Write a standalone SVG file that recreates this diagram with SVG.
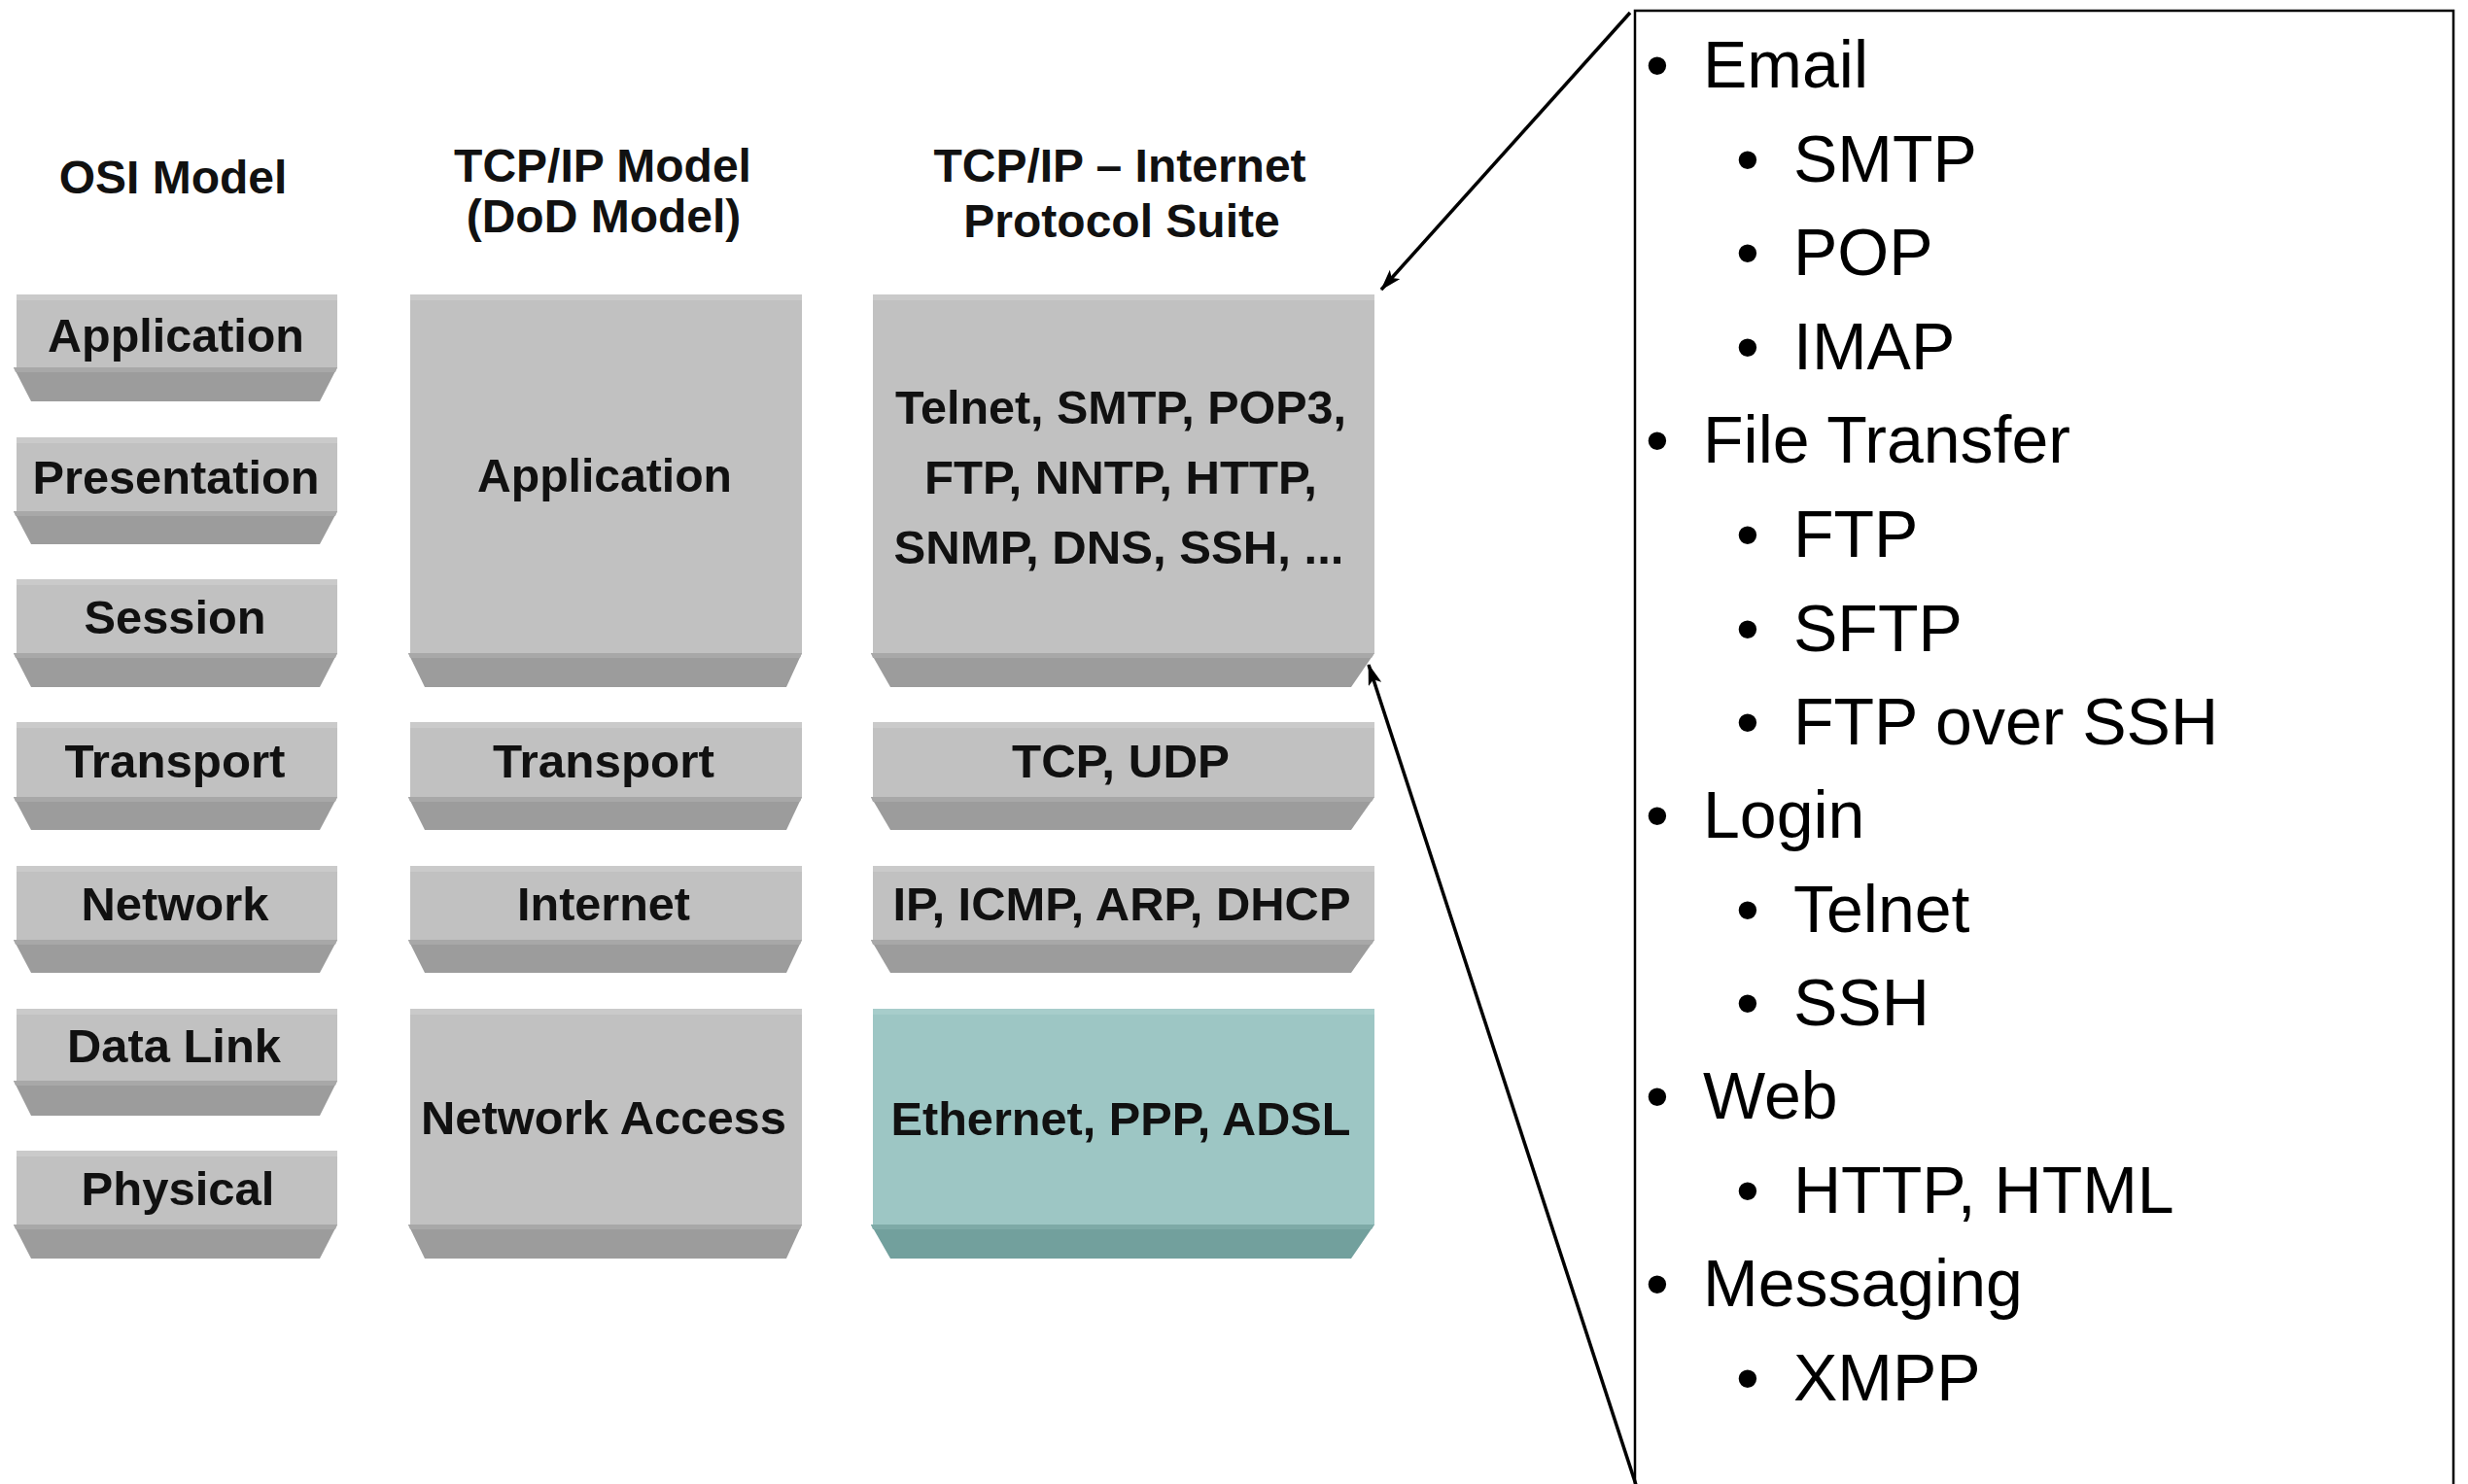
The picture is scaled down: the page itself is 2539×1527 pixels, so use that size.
<svg xmlns="http://www.w3.org/2000/svg" width="2539" height="1527" viewBox="0 0 2539 1527">
<defs>
<style>
.face{fill:#c1c1c1}
.strip{fill:#cacaca}
.bevel{fill:#9c9c9c}
.bevtop{fill:#a8a8a8}
.tface{fill:#9dc6c4}
.tstrip{fill:#a7cdcb}
.tbevel{fill:#72a09d}
.tbevtop{fill:#7eaaa7}
.hdr{font-family:"Liberation Sans",Arial,sans-serif;font-weight:bold;font-size:48px;text-anchor:middle;fill:#111}
.lbl{font-family:"Liberation Sans",Arial,sans-serif;font-weight:bold;font-size:49px;text-anchor:middle;fill:#111}
.li{font-family:"Liberation Sans",Arial,sans-serif;font-size:68px;fill:#000}
.conn{stroke:#000;stroke-width:3.5;fill:none;marker-end:url(#ah)}
</style>
<marker id="ah" viewBox="0 0 22 14" refX="21" refY="7" markerWidth="22" markerHeight="14" markerUnits="userSpaceOnUse" orient="auto">
<path d="M0,0 L22,7 L0,14 L5,7 z" fill="#000"/>
</marker>
</defs>
<rect x="0" y="0" width="2539" height="1527" fill="#fff"/>

<g id="headers">
<text class="hdr" x="178" y="199">OSI Model</text>
<text class="hdr" x="620" y="187">TCP/IP Model</text>
<text class="hdr" x="621" y="239">(DoD Model)</text>
<text class="hdr" x="1152" y="187">TCP/IP – Internet</text>
<text class="hdr" x="1154" y="244">Protocol Suite</text>
</g>

<!-- OSI column -->
<g id="osi-application">
<rect class="face" x="17" y="303" width="330" height="75"/><rect class="strip" x="17" y="303" width="330" height="6"/>
<polygon class="bevel" points="14,378 347,378 329,413 32,413"/><polygon class="bevtop" points="14,378 347,378 345,383 16,383"/>
<text class="lbl" x="181" y="362" textLength="264" lengthAdjust="spacingAndGlyphs">Application</text>
</g>
<g id="osi-presentation">
<rect class="face" x="17" y="450" width="330" height="76"/><rect class="strip" x="17" y="450" width="330" height="6"/>
<polygon class="bevel" points="14,526 347,526 329,560 32,560"/><polygon class="bevtop" points="14,526 347,526 345,531 16,531"/>
<text class="lbl" x="181" y="508" textLength="295" lengthAdjust="spacingAndGlyphs">Presentation</text>
</g>
<g id="osi-session">
<rect class="face" x="17" y="596" width="330" height="76"/><rect class="strip" x="17" y="596" width="330" height="6"/>
<polygon class="bevel" points="14,672 347,672 329,707 32,707"/><polygon class="bevtop" points="14,672 347,672 345,677 16,677"/>
<text class="lbl" x="180" y="652" textLength="187" lengthAdjust="spacingAndGlyphs">Session</text>
</g>
<g id="osi-transport">
<rect class="face" x="17" y="743" width="330" height="77"/><rect class="strip" x="17" y="743" width="330" height="6"/>
<polygon class="bevel" points="14,820 347,820 329,854 32,854"/><polygon class="bevtop" points="14,820 347,820 345,825 16,825"/>
<text class="lbl" x="180" y="800" textLength="227" lengthAdjust="spacingAndGlyphs">Transport</text>
</g>
<g id="osi-network">
<rect class="face" x="17" y="891" width="330" height="76"/><rect class="strip" x="17" y="891" width="330" height="6"/>
<polygon class="bevel" points="14,967 347,967 329,1001 32,1001"/><polygon class="bevtop" points="14,967 347,967 345,972 16,972"/>
<text class="lbl" x="180" y="947" textLength="193" lengthAdjust="spacingAndGlyphs">Network</text>
</g>
<g id="osi-datalink">
<rect class="face" x="17" y="1038" width="330" height="74"/><rect class="strip" x="17" y="1038" width="330" height="6"/>
<polygon class="bevel" points="14,1112 347,1112 329,1148 32,1148"/><polygon class="bevtop" points="14,1112 347,1112 345,1117 16,1117"/>
<text class="lbl" x="179" y="1093" textLength="220" lengthAdjust="spacingAndGlyphs">Data Link</text>
</g>
<g id="osi-physical">
<rect class="face" x="17" y="1184" width="330" height="76"/><rect class="strip" x="17" y="1184" width="330" height="6"/>
<polygon class="bevel" points="14,1260 347,1260 329,1295 32,1295"/><polygon class="bevtop" points="14,1260 347,1260 345,1265 16,1265"/>
<text class="lbl" x="183" y="1240" textLength="199" lengthAdjust="spacingAndGlyphs">Physical</text>
</g>

<!-- TCP/IP model column -->
<g id="tcp-application">
<rect class="face" x="422" y="303" width="403" height="369"/><rect class="strip" x="422" y="303" width="403" height="6"/>
<polygon class="bevel" points="420,672 825,672 809,707 437,707"/><polygon class="bevtop" points="420,672 825,672 823,677 422,677"/>
<text class="lbl" x="622" y="506" textLength="262" lengthAdjust="spacingAndGlyphs">Application</text>
</g>
<g id="tcp-transport">
<rect class="face" x="422" y="743" width="403" height="77"/><rect class="strip" x="422" y="743" width="403" height="6"/>
<polygon class="bevel" points="420,820 825,820 809,854 437,854"/><polygon class="bevtop" points="420,820 825,820 823,825 422,825"/>
<text class="lbl" x="621" y="800" textLength="228" lengthAdjust="spacingAndGlyphs">Transport</text>
</g>
<g id="tcp-internet">
<rect class="face" x="422" y="891" width="403" height="76"/><rect class="strip" x="422" y="891" width="403" height="6"/>
<polygon class="bevel" points="420,967 825,967 809,1001 437,1001"/><polygon class="bevtop" points="420,967 825,967 823,972 422,972"/>
<text class="lbl" x="621" y="947" textLength="178" lengthAdjust="spacingAndGlyphs">Internet</text>
</g>
<g id="tcp-networkaccess">
<rect class="face" x="422" y="1038" width="403" height="222"/><rect class="strip" x="422" y="1038" width="403" height="6"/>
<polygon class="bevel" points="420,1260 825,1260 809,1295 437,1295"/><polygon class="bevtop" points="420,1260 825,1260 823,1265 422,1265"/>
<text class="lbl" x="621" y="1167" textLength="376" lengthAdjust="spacingAndGlyphs">Network Access</text>
</g>

<!-- Protocol suite column -->
<g id="suite-application">
<rect class="face" x="898" y="303" width="516" height="369"/><rect class="strip" x="898" y="303" width="516" height="6"/>
<polygon class="bevel" points="896,672 1414,672 1390,707 916,707"/><polygon class="bevtop" points="896,672 1414,672 1411,677 898,677"/>
<text class="lbl" x="1153" y="436" textLength="464" lengthAdjust="spacingAndGlyphs">Telnet, SMTP, POP3,</text>
<text class="lbl" x="1153" y="508" textLength="404" lengthAdjust="spacingAndGlyphs">FTP, NNTP, HTTP,</text>
<text class="lbl" x="1151" y="580" textLength="463" lengthAdjust="spacingAndGlyphs">SNMP, DNS, SSH, ...</text>
</g>
<g id="suite-transport">
<rect class="face" x="898" y="743" width="516" height="77"/><rect class="strip" x="898" y="743" width="516" height="6"/>
<polygon class="bevel" points="896,820 1414,820 1390,854 916,854"/><polygon class="bevtop" points="896,820 1414,820 1411,825 898,825"/>
<text class="lbl" x="1153" y="800" textLength="224" lengthAdjust="spacingAndGlyphs">TCP, UDP</text>
</g>
<g id="suite-internet">
<rect class="face" x="898" y="891" width="516" height="76"/><rect class="strip" x="898" y="891" width="516" height="6"/>
<polygon class="bevel" points="896,967 1414,967 1390,1001 916,1001"/><polygon class="bevtop" points="896,967 1414,967 1411,972 898,972"/>
<text class="lbl" x="1154" y="947" textLength="471" lengthAdjust="spacingAndGlyphs">IP, ICMP, ARP, DHCP</text>
</g>
<g id="suite-link">
<rect class="tface" x="898" y="1038" width="516" height="222"/><rect class="tstrip" x="898" y="1038" width="516" height="6"/>
<polygon class="tbevel" points="896,1260 1414,1260 1390,1295 916,1295"/><polygon class="tbevtop" points="896,1260 1414,1260 1411,1265 898,1265"/>
<text class="lbl" x="1153" y="1168" textLength="473" lengthAdjust="spacingAndGlyphs">Ethernet, PPP, ADSL</text>
</g>

<!-- Application protocol list -->
<g id="app-list">
<rect x="1682" y="11" width="842" height="1540" fill="#fff" stroke="#000" stroke-width="2.5"/>
<g class="li">
<text x="1693" y="90">•</text><text x="1752" y="90">Email</text>
<text x="1786" y="187">•</text><text x="1845" y="187">SMTP</text>
<text x="1786" y="283">•</text><text x="1845" y="283">POP</text>
<text x="1786" y="380">•</text><text x="1845" y="380">IMAP</text>
<text x="1693" y="476">•</text><text x="1752" y="476">File Transfer</text>
<text x="1786" y="573">•</text><text x="1845" y="573">FTP</text>
<text x="1786" y="670">•</text><text x="1845" y="670">SFTP</text>
<text x="1786" y="766">•</text><text x="1845" y="766">FTP over SSH</text>
<text x="1693" y="862">•</text><text x="1752" y="862">Login</text>
<text x="1786" y="959">•</text><text x="1845" y="959">Telnet</text>
<text x="1786" y="1055">•</text><text x="1845" y="1055">SSH</text>
<text x="1693" y="1151">•</text><text x="1752" y="1151">Web</text>
<text x="1786" y="1248">•</text><text x="1845" y="1248">HTTP, HTML</text>
<text x="1693" y="1344">•</text><text x="1752" y="1344">Messaging</text>
<text x="1786" y="1441">•</text><text x="1845" y="1441">XMPP</text>
</g>
</g>

<g id="connectors">
<line class="conn" x1="1677" y1="13" x2="1421" y2="298"/>
<line class="conn" x1="1687" y1="1540" x2="1408" y2="684"/>
</g>
</svg>
